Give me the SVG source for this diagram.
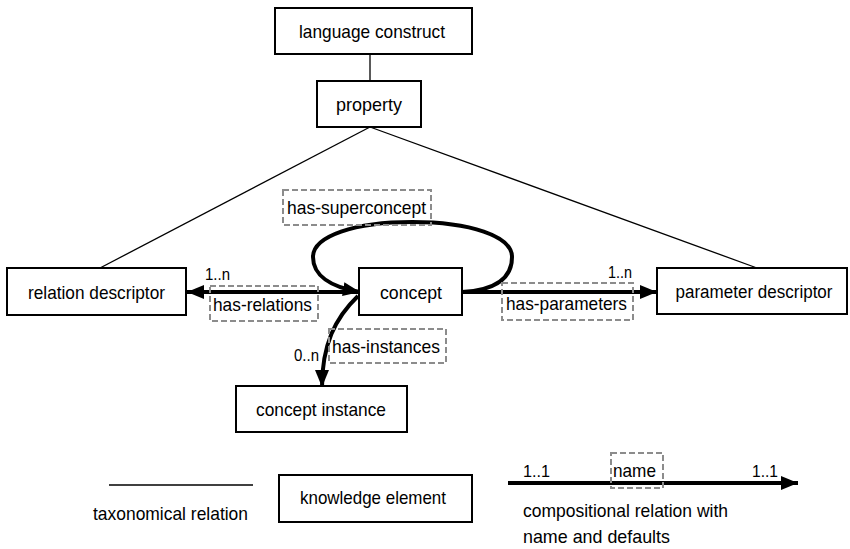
<svg xmlns="http://www.w3.org/2000/svg" width="850" height="549" viewBox="0 0 850 549">
<defs>
<style>
text{font-family:"Liberation Sans",Arial,sans-serif;font-size:19px;fill:#000}
.box{fill:#fff;stroke:#000;stroke-width:2}
.tax{stroke:#000;stroke-width:1.3;fill:none}
.comp{stroke:#000;stroke-width:4;fill:none}
.lbl{fill:none;stroke:#8c8c8c;stroke-width:2;stroke-dasharray:6 3}
.c{text-anchor:middle}
.m{font-size:17px}
</style>
<marker id="ah" markerUnits="userSpaceOnUse" markerWidth="18" markerHeight="16" refX="17" refY="8" orient="auto">
<path d="M0,1 L17,8 L0,15 Z" fill="#000"/>
</marker>
</defs>
<rect width="850" height="549" fill="#fff"/>
<g id="connectors">
<line class="tax" x1="370" y1="54" x2="370" y2="81"/>
<line class="tax" x1="370" y1="127" x2="100" y2="268"/>
<line class="tax" x1="370" y1="127" x2="757" y2="268"/>
<path class="comp" d="M462,292 C500,290 512,275 512,257 C512,236 470,222 412,222 C355,222 313,236 313,257 C313,275 330,287 360,292" marker-end="url(#ah)"/>
<line class="comp" x1="359" y1="292" x2="187" y2="292" marker-end="url(#ah)"/>
<line class="comp" x1="462" y1="292" x2="657" y2="292" marker-end="url(#ah)"/>
<path class="comp" d="M358,296 C335,318 322,345 322,387" marker-end="url(#ah)"/>
<rect class="lbl" x="283" y="190" width="148" height="35"/>
<text x="287" y="214" textLength="139" lengthAdjust="spacingAndGlyphs">has-superconcept</text>
<rect class="lbl" x="210" y="286" width="108" height="35"/>
<text x="213" y="311" textLength="99" lengthAdjust="spacingAndGlyphs">has-relations</text>
<text class="m" x="205" y="280" textLength="25" lengthAdjust="spacingAndGlyphs">1..n</text>
<rect class="lbl" x="502" y="283" width="131" height="37"/>
<text x="506" y="310" textLength="121" lengthAdjust="spacingAndGlyphs">has-parameters</text>
<text class="m" x="608" y="278" textLength="24" lengthAdjust="spacingAndGlyphs">1..n</text>
<rect class="lbl" x="329" y="329" width="117" height="34"/>
<text x="332" y="353" textLength="108" lengthAdjust="spacingAndGlyphs">has-instances</text>
<text class="m" x="294" y="361" textLength="25" lengthAdjust="spacingAndGlyphs">0..n</text>
</g>
<g id="language-construct">
<rect class="box" x="275" y="8" width="197" height="46"/>
<text class="c" x="372" y="38" textLength="146" lengthAdjust="spacingAndGlyphs">language construct</text>
</g>
<g id="property">
<rect class="box" x="317" y="81" width="104" height="46"/>
<text class="c" x="369" y="111" textLength="66" lengthAdjust="spacingAndGlyphs">property</text>
</g>
<g id="relation-descriptor">
<rect class="box" x="7" y="268" width="179" height="47"/>
<text class="c" x="96.5" y="299" textLength="137" lengthAdjust="spacingAndGlyphs">relation descriptor</text>
</g>
<g id="concept">
<rect class="box" x="359" y="268" width="103" height="47"/>
<text class="c" x="411" y="299" textLength="62" lengthAdjust="spacingAndGlyphs">concept</text>
</g>
<g id="parameter-descriptor">
<rect class="box" x="657" y="268" width="190" height="46"/>
<text class="c" x="754" y="298" style="font-size:18px" textLength="157" lengthAdjust="spacingAndGlyphs">parameter descriptor</text>
</g>
<g id="concept-instance">
<rect class="box" x="236" y="386" width="171" height="46"/>
<text class="c" x="321" y="416" textLength="130" lengthAdjust="spacingAndGlyphs">concept instance</text>
</g>
<g id="legend">
<line class="tax" x1="109" y1="485" x2="253" y2="485"/>
<text x="93" y="520" textLength="155" lengthAdjust="spacingAndGlyphs">taxonomical relation</text>
<rect class="box" x="279" y="475" width="193" height="47"/>
<text class="c" x="373" y="504" textLength="146" lengthAdjust="spacingAndGlyphs">knowledge element</text>
<line class="comp" x1="508" y1="483" x2="798" y2="483" marker-end="url(#ah)"/>
<text class="m" x="523" y="477" textLength="27" lengthAdjust="spacingAndGlyphs">1..1</text>
<rect class="lbl" x="611" y="453" width="52" height="35"/>
<text x="613" y="477" textLength="43" lengthAdjust="spacingAndGlyphs">name</text>
<text class="m" x="752" y="477" textLength="26" lengthAdjust="spacingAndGlyphs">1..1</text>
<text x="523" y="517" textLength="205" lengthAdjust="spacingAndGlyphs">compositional relation with</text>
<text x="523" y="543" textLength="147" lengthAdjust="spacingAndGlyphs">name and defaults</text>
</g>
</svg>
